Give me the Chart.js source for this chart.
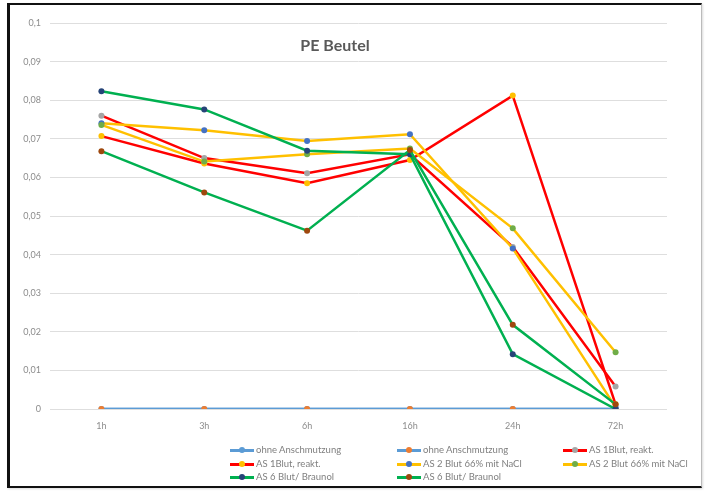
<!DOCTYPE html>
<html>
<head>
<meta charset="utf-8">
<script src="https://cdn.jsdelivr.net/npm/chart.js@4.4.0/dist/chart.umd.min.js"></script>
<style>
  html, body { margin: 0; padding: 0; background: #fff; }
  #wrap { position: relative; width: 705px; height: 492px; overflow: hidden; background: #fff; }
  #frame { position: absolute; left: 7px; top: 3px; width: 695px; height: 485px;
           border-left: 3px solid #111; border-top: 2px solid #111; border-bottom: 2px solid #111;
           border-right: 1px solid #bbb; box-sizing: border-box; pointer-events: none;
           box-shadow: 1px 1px 2px rgba(0,0,0,0.15); }
  #chart { position: absolute; left: 0; top: 0; }
  #title { position: absolute; left: 0; width: 670px; top: 35px; text-align: center;
           font: bold 16px Lato, "Open Sans", sans-serif; color: #595959; }
  #legend { position: absolute; left: 0; top: 0; width: 705px; height: 492px; pointer-events: none;
            font: 9.5px Lato, "Open Sans", sans-serif; color: #7f7f7f; }
  .item { position: absolute; height: 12px; line-height: 12px; white-space: nowrap; }
  .sw { position: absolute; left: 0; top: 5px; width: 24px; height: 2.5px; }
  .dot { position: absolute; left: 9px; top: 3px; width: 6px; height: 6px; border-radius: 50%; }
  .txt { position: absolute; left: 26px; top: 0; }
</style>
</head>
<body>
<div id="wrap">
  <canvas id="chart" width="705" height="492"></canvas>
  <div id="title">PE Beutel</div>
  <div id="legend"></div>
  <div id="frame"></div>
</div>
<script>
// Time points and y-axis tick labels
const categories = ['1h', '3h', '6h', '16h', '24h', '72h'];
const yTickLabels = ['0', '0,01', '0,02', '0,03', '0,04', '0,05', '0,06', '0,07', '0,08', '0,09', '0,1'];

// Series names
const seriesNames = [
  'ohne Anschmutzung', 'ohne Anschmutzung',
  'AS 1Blut, reakt.', 'AS 1Blut, reakt.',
  'AS 2 Blut 66% mit NaCl', 'AS 2 Blut 66% mit NaCl',
  'AS 6  Blut/ Braunol', 'AS 6  Blut/ Braunol'
];

// Measured values per series
const ohneA     = [0, 0, 0, 0, 0, 0];
const ohneB     = [0, 0, 0, 0, 0, 0];
const as1A      = [0.0760, 0.0650, 0.0611, 0.0660, 0.0420, 0.0058];
const as1B      = [0.0707, 0.0636, 0.0585, 0.0645, 0.0812, 0.0012];
const as2A      = [0.0740, 0.0722, 0.0694, 0.0712, 0.0416, 0.0005];
const as2B      = [0.0736, 0.0641, 0.0660, 0.0675, 0.0468, 0.0147];
const as6A      = [0.0823, 0.0776, 0.0669, 0.0660, 0.0142, 0.0000];
const as6B      = [0.0668, 0.0561, 0.0462, 0.0671, 0.0218, 0.0012];

const seriesValues = [ohneA, ohneB, as1A, as1B, as2A, as2B, as6A, as6B];

// Line and marker colours
const lineColors   = ['#5B9BD5', '#5B9BD5', '#FF0000', '#FF0000', '#FFC000', '#FFC000', '#00B050', '#00B050'];
const markerColors = ['#5B9BD5', '#ED7D31', '#A5A5A5', '#FFC000', '#4472C4', '#70AD47', '#264478', '#9E480E'];

const datasets = seriesValues.map((vals, i) => ({
  label: seriesNames[i],
  data: vals,
  borderColor: lineColors[i],
  backgroundColor: markerColors[i],
  pointBackgroundColor: markerColors[i],
  pointBorderColor: markerColors[i],
  pointRadius: 3,
  pointBorderWidth: 0,
  borderWidth: 2.5,
  tension: 0,
  order: seriesValues.length - i
}));

new Chart(document.getElementById('chart'), {
  type: 'line',
  data: { labels: categories, datasets },
  options: {
    responsive: false,
    animation: false,
    devicePixelRatio: 1,
    layout: { padding: { left: 10, top: 23, right: 38, bottom: 63 } },
    plugins: { legend: { display: false }, tooltip: { enabled: false }, title: { display: false } },
    scales: {
      x: {
        offset: true,
        grid: { display: false },
        border: { display: false },
        ticks: { color: '#8c8c8c', font: { family: 'Lato', size: 9 }, padding: 4, maxRotation: 0 },
        afterFit: s => { s.height = 20; }
      },
      y: {
        min: 0, max: 0.1,
        grid: { color: '#dedede', lineWidth: 1, drawTicks: false },
        border: { display: false },
        ticks: {
          stepSize: 0.01,
          color: '#8c8c8c',
          font: { family: 'Lato', size: 9 },
          padding: 9,
          callback: (v, idx) => yTickLabels[idx]
        },
        afterFit: s => { s.width = 40; }
      }
    }
  }
});

// Legend in three columns
const legend = document.getElementById('legend');
const colX = [230, 397, 563];
const rowY = [444, 458, 471];
seriesNames.forEach((name, i) => {
  const it = document.createElement('div');
  it.className = 'item';
  it.style.left = colX[i % 3] + 'px';
  it.style.top = rowY[Math.floor(i / 3)] + 'px';
  const sw = document.createElement('span');
  sw.className = 'sw';
  sw.style.background = lineColors[i];
  const dot = document.createElement('span');
  dot.className = 'dot';
  dot.style.background = markerColors[i];
  const tx = document.createElement('span');
  tx.className = 'txt';
  tx.textContent = name;
  it.appendChild(sw); it.appendChild(dot); it.appendChild(tx);
  legend.appendChild(it);
});
</script>
</body>
</html>
